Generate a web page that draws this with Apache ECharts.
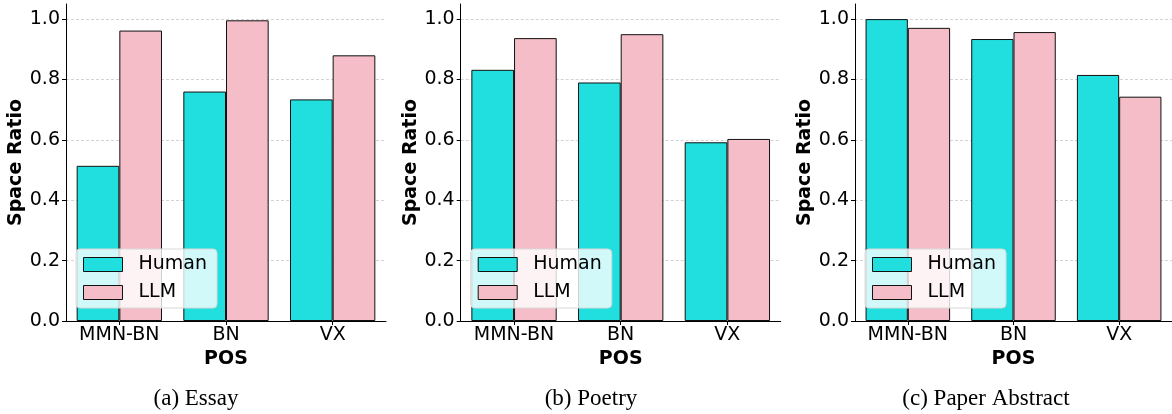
<!DOCTYPE html>
<html>
<head>
<meta charset="utf-8">
<script src="https://cdn.jsdelivr.net/npm/echarts@6/dist/echarts.min.js"></script>
<style>
html,body{margin:0;padding:0;background:#fff;}
#c{width:1172px;height:414px;}
</style>
</head>
<body>
<div id="c"></div>
<script>
var categories = ['MMN-BN', 'BN', 'VX'];
var panelCaptions = ['(a) Essay', '(b) Poetry', '(c) Paper Abstract'];
var seriesNames = ['Human', 'LLM'];
var humanEssay = [0.514, 0.760, 0.734];
var llmEssay = [0.962, 0.996, 0.880];
var humanPoetry = [0.832, 0.790, 0.592];
var llmPoetry = [0.937, 0.950, 0.603];
var humanAbstract = [1.000, 0.934, 0.815];
var llmAbstract = [0.971, 0.957, 0.743];
var yTicks = [0, 0.2, 0.4, 0.6, 0.8, 1.0];

var humanData = [humanEssay, humanPoetry, humanAbstract];
var llmData = [llmEssay, llmPoetry, llmAbstract];

var HUMAN_COLOR = '#21DFDF';
var LLM_COLOR = '#F4BDC7';
var lefts = [66, 460.7, 855];
var captionCenters = [196, 591, 986];
var plotW = 320;

var grids = [], xAxes = [], yAxes = [], series = [], legends = [], titles = [];
for (var i = 0; i < 3; i++) {
  grids.push({left: lefts[i], top: 4, width: plotW, height: 317, containLabel: false});
  xAxes.push({
    type: 'category', gridIndex: i, data: categories,
    name: 'POS', nameLocation: 'middle', nameGap: 26,
    nameTextStyle: {fontFamily: 'DejaVu Sans', fontWeight: 'bold', fontSize: 19, color: '#000', verticalAlign: 'top'},
    axisLine: {lineStyle: {color: '#000', width: 1}},
    axisTick: {show: true, alignWithLabel: true, length: 4, lineStyle: {color: '#000'}},
    axisLabel: {fontFamily: 'DejaVu Sans', fontSize: 19, color: '#000', margin: 5},
    splitLine: {show: false}
  });
  yAxes.push({
    type: 'value', gridIndex: i, min: 0, max: 1.05, interval: 0.2,
    name: 'Space Ratio', nameLocation: 'middle', nameGap: 40,
    nameTextStyle: {fontFamily: 'DejaVu Sans', fontWeight: 'bold', fontSize: 19, color: '#000'},
    axisLine: {show: true, lineStyle: {color: '#000', width: 1}},
    axisTick: {show: true, length: 4, customValues: yTicks, lineStyle: {color: '#000'}},
    axisLabel: {fontFamily: 'DejaVu Sans', fontSize: 19, color: '#000', margin: 6,
      customValues: yTicks,
      formatter: function (v) { return v.toFixed(1); }},
    splitLine: {show: true, showMinLine: false,
      lineStyle: {color: '#c8c8c8', width: 0.8, type: [3, 2]}}
  });
  series.push({
    name: seriesNames[0], type: 'bar', xAxisIndex: i, yAxisIndex: i,
    data: humanData[i], barGap: '0%', barCategoryGap: '20%',
    itemStyle: {color: HUMAN_COLOR, borderColor: '#111', borderWidth: 1}
  });
  series.push({
    name: seriesNames[1], type: 'bar', xAxisIndex: i, yAxisIndex: i,
    data: llmData[i], barGap: '0%', barCategoryGap: '20%',
    itemStyle: {color: LLM_COLOR, borderColor: '#111', borderWidth: 1}
  });
  legends.push({
    data: seriesNames, orient: 'vertical', icon: 'rect',
    left: lefts[i] + 10, top: 249,
    itemWidth: 39, itemHeight: 14, itemGap: 9,
    padding: [6, 10, 6, 7],
    backgroundColor: 'rgba(255,255,255,0.8)',
    borderColor: '#d8d8d8', borderWidth: 1, borderRadius: 4,
    selectedMode: false,
    textStyle: {fontFamily: 'DejaVu Sans', fontSize: 19, color: '#000', padding: [0, 0, 0, 11]},
    itemStyle: {borderColor: '#111', borderWidth: 1}
  });
  titles.push({
    text: panelCaptions[i], left: captionCenters[i], textAlign: 'center', top: 387, padding: 0,
    textStyle: {fontFamily: 'Liberation Serif', fontWeight: 'normal', fontSize: 23, color: '#000'}
  });
}

var chart = echarts.init(document.getElementById('c'), null, {renderer: 'canvas'});
chart.setOption({
  animation: false,
  backgroundColor: '#fff',
  title: titles,
  legend: legends,
  grid: grids,
  xAxis: xAxes,
  yAxis: yAxes,
  series: series
});
</script>
</body>
</html>
